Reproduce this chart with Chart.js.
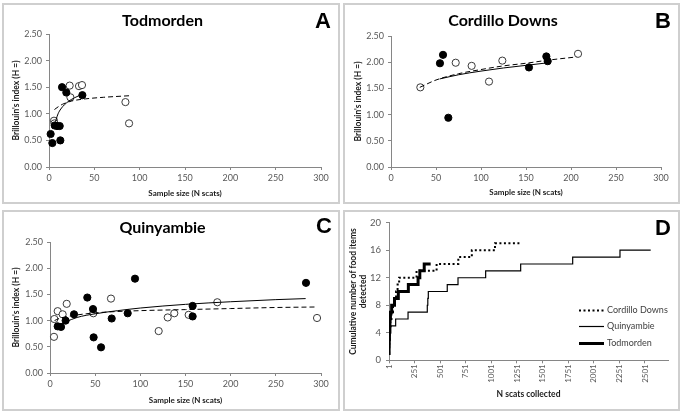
<!DOCTYPE html>
<html><head><meta charset="utf-8">
<script src="https://cdn.jsdelivr.net/npm/chart.js@4.4.1/dist/chart.umd.min.js"></script>
<style>
html,body{margin:0;padding:0;background:#fff;width:683px;height:415px;overflow:hidden;}
.panel{position:absolute;box-sizing:border-box;border:2px solid #cfcfcf;background:#fff;}
.panel canvas{position:absolute;left:0;top:0;}
.tag{position:absolute;width:30px;height:26px;line-height:26px;text-align:center;font:bold 22px 'Liberation Sans',Arial,sans-serif;color:#000;}
</style></head><body>
<div class="panel" style="left:2px;top:3px;width:338px;height:201px"><canvas id="cA" width="334" height="197"></canvas><div class="tag" style="left:304px;top:3px">A</div></div>
<div class="panel" style="left:343px;top:3px;width:337px;height:201px"><canvas id="cB" width="333" height="197"></canvas><div class="tag" style="left:303px;top:3px">B</div></div>
<div class="panel" style="left:2px;top:210px;width:338px;height:201px"><canvas id="cC" width="334" height="197"></canvas><div class="tag" style="left:305px;top:1px">C</div></div>
<div class="panel" style="left:343px;top:210px;width:337px;height:201px"><canvas id="cD" width="333" height="197"></canvas><div class="tag" style="left:303px;top:3px">D</div></div>
<script>
// ---------- Shared tick values ----------
const sampleTicks = [0, 50, 100, 150, 200, 250, 300];
const indexTicks = [0, 0.5, 1.0, 1.5, 2.0, 2.5];
const scatsTicks = [1, 251, 501, 751, 1001, 1251, 1501, 1751, 2001, 2251, 2501];
const foodTicks = [0, 2, 4, 6, 8, 10, 12, 14, 16, 18, 20];

// ---------- Panel A: Todmorden ----------
const todFilledX = [1.8, 3.7, 6.3, 8.8, 11.8, 12.5, 14.4, 19.1, 36.8];
const todFilledY = [0.62, 0.45, 0.78, 0.77, 0.77, 0.50, 1.50, 1.40, 1.35];
const todOpenX = [5.5, 6.0, 22.8, 23.6, 33.1, 36.4, 84.3, 88.3];
const todOpenY = [0.87, 0.82, 1.53, 1.31, 1.52, 1.54, 1.22, 0.82];
const todSolidX = [6.5, 8, 10, 13, 17, 22, 28, 37];
const todSolidY = [0.80, 0.90, 1.00, 1.09, 1.17, 1.24, 1.30, 1.37];
const todDashX = [6, 10, 15, 25, 40, 60, 89];
const todDashY = [1.08, 1.13, 1.18, 1.24, 1.28, 1.31, 1.34];

// ---------- Panel B: Cordillo Downs ----------
const corFilledX = [54.4, 57.8, 63.7, 153.3, 172.6, 174.1];
const corFilledY = [1.98, 2.14, 0.94, 1.90, 2.11, 2.02];
const corOpenX = [32.6, 71.9, 89.6, 108.9, 123.7, 207.8];
const corOpenY = [1.52, 1.99, 1.93, 1.63, 2.03, 2.16];
const corSolidX = [54, 75, 100, 125, 150, 175];
const corSolidY = [1.68, 1.76, 1.83, 1.89, 1.94, 1.99];
const corDashX = [32, 50, 75, 100, 125, 150, 175, 206];
const corDashY = [1.52, 1.66, 1.78, 1.86, 1.93, 1.98, 2.04, 2.10];

// ---------- Panel C: Quinyambie ----------
const quiFilledX = [8.5, 12.2, 17.3, 26.6, 41.3, 47.6, 48.3, 56.5, 68.3, 86.0, 94.1, 157.9, 157.9, 283.4];
const quiFilledY = [0.89, 0.88, 1.00, 1.12, 1.44, 1.22, 0.68, 0.49, 1.04, 1.14, 1.80, 1.28, 1.08, 1.72];
const quiOpenX = [4.4, 4.8, 8.5, 14.0, 18.5, 48.0, 67.5, 120.3, 130.3, 137.6, 153.5, 185.2, 295.6];
const quiOpenY = [0.69, 1.03, 1.18, 1.12, 1.32, 1.14, 1.42, 0.80, 1.06, 1.14, 1.11, 1.35, 1.05];
const quiSolidX = [6, 10, 17, 30, 50, 75, 100, 150, 200, 250, 283];
const quiSolidY = [0.83, 0.90, 0.97, 1.06, 1.13, 1.19, 1.24, 1.31, 1.36, 1.40, 1.42];
const quiDashX = [5, 10, 20, 40, 60, 100, 150, 200, 250, 296];
const quiDashY = [1.00, 1.04, 1.08, 1.13, 1.16, 1.19, 1.21, 1.23, 1.25, 1.26];

// ---------- Panel D: cumulative food items (x = scat count where the total rises) ----------
const cumCorX = [1, 2, 4, 6, 10, 15, 25, 40, 55, 70, 85, 100, 270, 466, 678, 810, 1036, 1280];
const cumCorY = [1, 2, 3, 4, 5, 6, 7, 8, 9, 10, 11, 12, 13, 14, 15, 16, 17, 17];
const cumQuiX = [1, 3, 6, 10, 18, 66, 187, 375, 380, 385, 570, 675, 945, 1287, 1795, 2257, 2557];
const cumQuiY = [1, 2, 3, 4, 5, 6, 7, 8, 9, 10, 11, 12, 13, 14, 15, 16, 16];
const cumTodX = [1, 2, 3, 5, 7, 10, 15, 27, 55, 92, 190, 285, 302, 345, 408];
const cumTodY = [1, 2, 3, 4, 5, 6, 7, 8, 9, 10, 11, 12, 13, 14, 14];

const pts = (xs, ys) => xs.map((x, i) => ({x: x, y: ys[i]}));

const AXIS = '#868686';
const TICK = '#595959';
const FONT = 'Lato';

function scatterPanel(id, o) {
  return new Chart(document.getElementById(id), {
    type: 'scatter',
    data: {datasets: [
      {label: o.name + ' fit (solid)', data: pts(o.sx, o.sy), showLine: true, borderColor: '#000', borderWidth: 1,
       pointRadius: 0, cubicInterpolationMode: 'monotone', fill: false, clip: false},
      {label: o.name + ' fit (dashed)', data: pts(o.dx, o.dy), showLine: true, borderColor: '#000', borderWidth: 1,
       borderDash: [5, 3], pointRadius: 0, cubicInterpolationMode: 'monotone', fill: false, clip: false},
      {label: o.name + ' (filled)', data: pts(o.fx, o.fy), pointRadius: 3.6, backgroundColor: '#000', borderColor: '#000', borderWidth: 1, clip: false},
      {label: o.name + ' (open)', data: pts(o.ox, o.oy), pointRadius: 3.6, backgroundColor: '#fff', borderColor: '#3a3a3a', borderWidth: 1, clip: false}
    ]},
    options: {
      responsive: false, animation: false, devicePixelRatio: 1,
      layout: {padding: {left: 0, right: o.padR, top: 0, bottom: 0}},
      plugins: {
        legend: {display: false}, tooltip: {enabled: false},
        title: {display: true, text: o.name, color: '#000',
          font: {family: FONT, size: 16, weight: 'bold', lineHeight: 1.2},
          padding: {top: o.tTop, bottom: o.tBot}}
      },
      scales: {
        x: {type: 'linear', min: 0, max: 300,
          afterFit: s => { s.height = o.xH; },
          afterBuildTicks: s => { s.ticks = sampleTicks.map(v => ({value: v})); },
          ticks: {color: TICK, font: {family: FONT, size: 9}, padding: 3, maxRotation: 0, autoSkip: false,
            callback: v => String(v)},
          grid: {drawOnChartArea: false, drawTicks: true, tickLength: 3, color: AXIS},
          border: {display: true, color: AXIS},
          title: {display: true, text: 'Sample size (N scats)', color: '#1a1a1a',
            font: {family: FONT, size: 8, weight: 'bold', lineHeight: 1.2}, padding: {top: 0, bottom: o.xtPad}}},
        y: {type: 'linear', min: 0, max: 2.5,
          afterFit: s => { s.width = o.yW; },
          afterBuildTicks: s => { s.ticks = indexTicks.map(v => ({value: v})); },
          ticks: {color: TICK, font: {family: FONT, size: 9}, padding: 4, callback: v => Number(v).toFixed(2)},
          grid: {drawOnChartArea: false, drawTicks: true, tickLength: 3, color: AXIS},
          border: {display: true, color: AXIS},
          title: {display: true, text: "Brillouin's index (H =)", color: '#1a1a1a',
            font: {family: FONT, size: 8.5, weight: 'bold', lineHeight: 1.2}, padding: {top: o.ytPad, bottom: 0}}}
      }
    }
  });
}

scatterPanel('cA', {name: 'Todmorden', fx: todFilledX, fy: todFilledY, ox: todOpenX, oy: todOpenY,
  sx: todSolidX, sy: todSolidY, dx: todDashX, dy: todDashY,
  padR: 17, tTop: 6.4, tBot: 3.4, xH: 35, yW: 45, xtPad: 4.2, ytPad: 6.9});
scatterPanel('cB', {name: 'Cordillo Downs', fx: corFilledX, fy: corFilledY, ox: corOpenX, oy: corOpenY,
  sx: corSolidX, sy: corSolidY, dx: corDashX, dy: corDashY,
  padR: 17, tTop: 6.1, tBot: 5.7, xH: 35, yW: 46, xtPad: 4.5, ytPad: 8.2});
scatterPanel('cC', {name: 'Quinyambie', fx: quiFilledX, fy: quiFilledY, ox: quiOpenX, oy: quiOpenY,
  sx: quiSolidX, sy: quiSolidY, dx: quiDashX, dy: quiDashY,
  padR: 17, tTop: 6.7, tBot: 4.1, xH: 36, yW: 46, xtPad: 4.2, ytPad: 7.6});

// Legend drawn inside the plot area of panel D
const insideLegend = {
  id: 'insideLegend',
  afterDatasetsDraw(chart, args, opts) {
    const {ctx, chartArea} = chart;
    ctx.save();
    chart.data.datasets.forEach((ds, i) => {
      const y = Math.round(chartArea.top + opts.top + i * opts.gap) + 0.5;
      const x = chartArea.left + opts.left;
      ctx.beginPath();
      ctx.setLineDash(ds.borderDash || []);
      ctx.lineWidth = ds.borderWidth;
      ctx.strokeStyle = ds.borderColor;
      ctx.moveTo(x, y); ctx.lineTo(x + opts.len, y); ctx.stroke();
      ctx.setLineDash([]);
      ctx.fillStyle = opts.color;
      ctx.font = opts.font;
      ctx.textBaseline = 'middle';
      ctx.textAlign = 'left';
      ctx.fillText(ds.label, x + opts.len + 3, y);
    });
    ctx.restore();
  }
};

new Chart(document.getElementById('cD'), {
  type: 'line',
  data: {datasets: [
    {label: 'Cordillo Downs', data: pts(cumCorX, cumCorY), stepped: 'before', borderColor: '#000', borderWidth: 2,
     borderDash: [2, 2.5], pointRadius: 0, fill: false},
    {label: 'Quinyambie', data: pts(cumQuiX, cumQuiY), stepped: 'before', borderColor: '#000', borderWidth: 1.2,
     pointRadius: 0, fill: false},
    {label: 'Todmorden', data: pts(cumTodX, cumTodY), stepped: 'before', borderColor: '#000', borderWidth: 3,
     pointRadius: 0, fill: false}
  ]},
  plugins: [insideLegend],
  options: {
    responsive: false, animation: false, devicePixelRatio: 1,
    layout: {padding: {left: 0, right: 10, top: 10.7, bottom: 0}},
    plugins: {
      legend: {display: false}, tooltip: {enabled: false},
      insideLegend: {left: 190, top: 87, gap: 16.5, len: 25, color: '#404040', font: '9px Lato'}
    },
    scales: {
      x: {type: 'linear', min: 1, max: 2726,
        afterFit: s => { s.height = 48.7; },
        afterBuildTicks: s => { s.ticks = scatsTicks.map(v => ({value: v})); },
        ticks: {color: TICK, font: {family: FONT, size: 8}, padding: 1, minRotation: 90, maxRotation: 90, autoSkip: false,
          callback: v => String(v)},
        grid: {drawOnChartArea: false, drawTicks: true, tickLength: 3, color: AXIS},
        border: {display: true, color: AXIS},
        title: {display: true, text: 'N scats collected', color: '#1a1a1a',
          font: {family: FONT, size: 8.5, weight: 'bold', lineHeight: 1.2}, padding: {top: 0, bottom: 9.9}}},
      y: {type: 'linear', min: 0, max: 20,
        afterFit: s => { s.width = 44; },
        afterBuildTicks: s => { s.ticks = foodTicks.map(v => ({value: v})); },
        ticks: {color: TICK, font: {family: FONT, size: 9.5}, padding: 5},
        grid: {drawOnChartArea: false, drawTicks: true, tickLength: 3, color: AXIS},
        border: {display: true, color: AXIS},
        title: {display: true, text: ['Cumulative number of food items', 'detected'], color: '#1a1a1a',
          font: {family: FONT, size: 8.5, weight: 'bold', lineHeight: 1.2}, padding: {top: 2.9, bottom: 0}}}
    }
  }
});
</script>
</body></html>
